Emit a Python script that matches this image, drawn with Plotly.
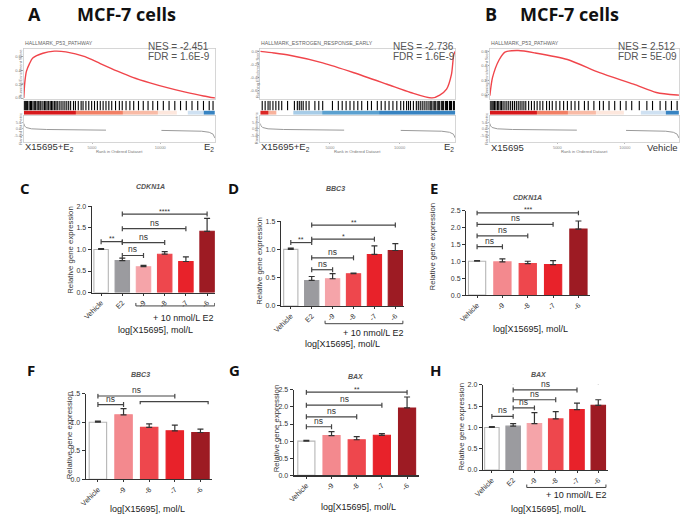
import plotly.graph_objects as go

W, H = 680, 526
SANS = "Liberation Sans, Arial, sans-serif"
HEAD = "Open Sans, Lato, sans-serif"

# ---------------- GSEA data (rank expressed as fraction of ordered dataset) ----------------
RANK_TICK_POS = [0.357, 0.714]
RANK_TICK_TXT = ["5000", "10000"]

A1_TITLE = "HALLMARK_P53_PATHWAY"
A1_NES, A1_FDR = "-2.451", "1.6E-9"
A1_ES_X = [0, 0.005, 0.014, 0.03, 0.047, 0.1, 0.16, 0.22, 0.32, 0.4, 0.49, 0.57, 0.66, 0.75, 0.84, 0.94, 1.0]
A1_ES_Y = [0.0, 0.22, 0.39, 0.5, 0.58, 0.65, 0.68, 0.67, 0.6, 0.5, 0.39, 0.3, 0.22, 0.15, 0.09, 0.03, 0.0]
A1_ES_TICKS = [0.0, 0.2, 0.4, 0.6]
A1_HITS = [0.0, 0.005, 0.01, 0.015, 0.02, 0.028, 0.035, 0.04, 0.048, 0.055, 0.062, 0.07, 0.078,
           0.085, 0.09, 0.1, 0.108, 0.115, 0.122, 0.13, 0.138, 0.145, 0.152, 0.16, 0.168, 0.175,
           0.185, 0.195, 0.205, 0.215, 0.225, 0.235, 0.245, 0.26, 0.27, 0.285, 0.3, 0.31, 0.325,
           0.34, 0.355, 0.37, 0.385, 0.4, 0.415, 0.43, 0.445, 0.46, 0.48, 0.5, 0.515, 0.535, 0.555,
           0.575, 0.6, 0.625, 0.65, 0.675, 0.7, 0.73, 0.76, 0.79, 0.82, 0.85, 0.88, 0.91, 0.94,
           0.97, 0.99]
A1_BAND_EDGES = [0, 0.27, 0.52, 0.7, 0.8, 0.86, 0.94, 1.0]
A1_BAND_VALS = [3.0, 1.6, 0.9, 0.35, 0.0, -0.5, -2.5]

A2_TITLE = "HALLMARK_ESTROGEN_RESPONSE_EARLY"
A2_NES, A2_FDR = "-2.736", "1.6E-9"
A2_ES_X = [0, 0.07, 0.15, 0.32, 0.48, 0.65, 0.77, 0.88, 0.92, 0.955, 0.98, 0.992, 1.0]
A2_ES_Y = [0.0, -0.025, -0.06, -0.175, -0.325, -0.5, -0.625, -0.71, -0.665, -0.575, -0.35, -0.05, 0.0]
A2_ES_TICKS = [0.0, -0.2, -0.4, -0.6]
A2_HITS = [0.01, 0.025, 0.04, 0.05, 0.065, 0.08, 0.095, 0.11, 0.14, 0.175, 0.19, 0.2, 0.21, 0.22,
           0.235, 0.25, 0.28, 0.3, 0.32, 0.37, 0.4, 0.42, 0.44, 0.46, 0.48, 0.5, 0.52, 0.55, 0.57,
           0.6, 0.62, 0.64, 0.66, 0.68, 0.7, 0.72, 0.735, 0.75, 0.76, 0.77, 0.785, 0.8, 0.81, 0.82,
           0.83, 0.84, 0.85, 0.86, 0.87, 0.875, 0.88, 0.89, 0.895, 0.9, 0.91, 0.915, 0.92, 0.93,
           0.935, 0.94, 0.95, 0.955, 0.96, 0.97, 0.975, 0.98, 0.99, 0.995]
A2_BAND_EDGES = [0, 0.04, 0.08, 0.17, 0.32, 0.61, 1.0]
A2_BAND_VALS = [2.8, 1.0, 0.0, -0.9, -1.8, -2.5]

B_TITLE = "HALLMARK_P53_PATHWAY"
B_NES, B_FDR = "2.512", "5E-09"
B_ES_X = [0, 0.014, 0.05, 0.08, 0.15, 0.24, 0.41, 0.58, 0.76, 0.88, 0.99, 1.0]
B_ES_Y = [-0.014, 0.236, 0.487, 0.59, 0.61, 0.577, 0.487, 0.305, 0.146, 0.031, -0.004, -0.005]
B_ES_TICKS = [0.0, 0.2, 0.4, 0.6]
B_HITS = [0.0, 0.006, 0.012, 0.018, 0.025, 0.032, 0.04, 0.047, 0.055, 0.062, 0.07, 0.08, 0.09,
          0.1, 0.11, 0.12, 0.13, 0.14, 0.15, 0.16, 0.17, 0.18, 0.19, 0.205, 0.22, 0.235, 0.25,
          0.265, 0.28, 0.3, 0.315, 0.33, 0.35, 0.37, 0.39, 0.41, 0.43, 0.45, 0.47, 0.5, 0.52,
          0.55, 0.58, 0.6, 0.63, 0.66, 0.69, 0.72, 0.75, 0.79, 0.83, 0.86, 0.9, 0.93, 0.96, 0.99]
B_BAND_EDGES = [0, 0.25, 0.41, 0.56, 0.71, 0.8, 0.93, 1.0]
B_BAND_VALS = [3.0, 1.6, 0.9, 0.35, 0.0, -0.5, -2.5]

RANK_A_X = [0, 0.004, 0.012, 0.04, 0.12, 0.25, 0.43, None, 0.72, 0.85, 0.93, 0.97, 0.99, 1.0]
RANK_A_Y = [0.4, 0.22, 0.1, 0.0, -0.05, -0.08, -0.1, None, -0.12, -0.14, -0.18, -0.26, -0.4, -0.7]
RANK_B_X = [0, 0.004, 0.012, 0.04, 0.12, 0.25, 0.46, None, 0.72, 0.85, 0.93, 0.97, 0.99, 1.0]
RANK_B_Y = [0.4, 0.22, 0.1, 0.0, -0.05, -0.08, -0.1, None, -0.12, -0.14, -0.18, -0.26, -0.4, -0.7]

# ---------------- qPCR bar data ----------------
LBL_E2 = ["Vehicle", "E2", "-9", "-8", "-7", "-6"]
LBL_NO = ["Vehicle", "-9", "-8", "-7", "-6"]

C_VALS = [1.0, 0.74, 0.60, 0.89, 0.72, 1.42]
C_ERRS = [0.02, 0.06, 0.03, 0.06, 0.11, 0.30]
C_SIG = [(0, 1, 1.18, "**"), (1, 5, 1.82, "****"), (1, 4, 1.48, "ns"), (1, 3, 1.16, "ns"), (1, 2, 0.86, "ns")]

D_VALS = [1.0, 0.45, 0.48, 0.57, 0.91, 0.98]
D_ERRS = [0.02, 0.07, 0.09, 0.01, 0.15, 0.12]
D_SIG = [(0, 1, 1.12, "**"), (1, 5, 1.43, "**"), (1, 4, 1.18, "*"), (1, 3, 0.85, "ns"), (1, 2, 0.64, "ns")]

E_VALS = [1.0, 0.98, 0.93, 0.90, 1.95]
E_ERRS = [0.02, 0.09, 0.07, 0.12, 0.24]
E_SIG = [(0, 4, 2.43, "***"), (0, 3, 2.09, "ns"), (0, 2, 1.75, "ns"), (0, 1, 1.43, "ns")]

F_VALS = [1.0, 1.13, 0.91, 0.85, 0.82]
F_ERRS = [0.02, 0.11, 0.06, 0.10, 0.06]
F_SIG = [(0, 1, 1.31, "ns"), (0, 3, 1.46, "ns")]
F_GROUP_LINE = (2, 4, 1.36)

G_VALS = [1.0, 1.16, 1.04, 1.17, 1.97]
G_ERRS = [0.02, 0.12, 0.09, 0.05, 0.32]
G_SIG = [(0, 4, 2.43, "**"), (0, 3, 2.05, "ns"), (0, 2, 1.71, "ns"), (0, 1, 1.42, "ns")]

H_VALS = [1.0, 1.03, 1.09, 1.20, 1.42, 1.52]
H_ERRS = [0.02, 0.06, 0.26, 0.17, 0.15, 0.13]
H_SIG = [(0, 1, 1.26, "ns"), (1, 5, 2.06, "*"), (1, 4, 1.88, "ns"), (1, 3, 1.65, "ns"), (1, 2, 1.46, "ns")]

# ---------------- styles ----------------
FILL_E2 = ["#ffffff", "#9b9b9f", "#f5a4a9", "#ee474d", "#e8222a", "#9d1b23"]
FILL_NO = ["#ffffff", "#f3898e", "#ee474d", "#e8222a", "#9d1b23"]
BAND_SCALE = [[0, "#1f6fb8"], [0.25, "#6aaed6"], [0.4, "#c6dbef"], [0.5, "#ffffff"],
              [0.6, "#fcd5c4"], [0.75, "#f4876a"], [1, "#d7191c"]]

fig = go.Figure()
annotations = []
shapes = []
axis_n = [0]


def new_axes(x0, x1, y0, y1, xa, ya):
    axis_n[0] += 1
    n = axis_n[0]
    s = "" if n == 1 else str(n)
    xa = dict(xa)
    ya = dict(ya)
    xa.update(domain=[x0 / W, x1 / W], anchor="y" + s, fixedrange=True)
    ya.update(domain=[1 - y1 / H, 1 - y0 / H], anchor="x" + s, fixedrange=True)
    fig.update_layout({"xaxis" + s: xa, "yaxis" + s: ya})
    return "x" + s, "y" + s


def text(t, x, y, size, color="#333", xanchor="center", yanchor="middle", angle=0, family=SANS):
    annotations.append(dict(text=t, x=x / W, y=1 - y / H, xref="paper", yref="paper",
                            xanchor=xanchor, yanchor=yanchor, showarrow=False, textangle=angle,
                            borderpad=0, font=dict(size=size, color=color, family=family)))


def gsea(x0, x1, es_x, es_y, es_rng, es_ticks, hits, edges, bvals, rk_x, rk_y,
         title, nes, fdr, left_lbl, right_lbl, nes_x):
    base_x = dict(range=[0, 1], showgrid=False, zeroline=False, showticklabels=False, ticks="")
    frame = dict(showline=True, linecolor="#cccccc", linewidth=0.8, mirror=True)
    xa, ya = new_axes(x0, x1, 45, 96, dict(base_x, **frame),
                      dict(range=es_rng, tickvals=es_ticks, ticktext=["%.1f" % t for t in es_ticks],
                           tickfont=dict(size=4, color="#777", family=SANS), ticks="outside",
                           ticklen=1.5, tickcolor="#aaa", showgrid=False, zeroline=False, **frame))
    fig.add_trace(go.Scatter(x=es_x, y=es_y, mode="lines", xaxis=xa, yaxis=ya, hoverinfo="skip",
                             line=dict(color="#f0454b", width=1.4, shape="spline", smoothing=0.7)))
    xb, yb = new_axes(x0, x1, 98, 108, base_x, dict(range=[0, 1], visible=False))
    bx, by = [], []
    for h in hits:
        bx += [h, h, None]
        by += [0, 1, None]
    fig.add_trace(go.Scatter(x=bx, y=by, mode="lines", xaxis=xb, yaxis=yb, hoverinfo="skip",
                             line=dict(color="#000000", width=1.1)))
    xc, yc = new_axes(x0, x1, 108, 112.5, base_x, dict(range=[0, 1], visible=False))
    fig.add_trace(go.Heatmap(x=edges, y=[0, 1], z=[bvals], zmin=-3, zmax=3, colorscale=BAND_SCALE,
                             showscale=False, xaxis=xc, yaxis=yc, hoverinfo="skip"))
    xr, yr = new_axes(x0, x1, 113, 140,
                      dict(base_x, tickvals=RANK_TICK_POS, ticktext=RANK_TICK_TXT, showticklabels=True,
                           tickfont=dict(size=4, color="#888", family=SANS), ticks="outside",
                           ticklen=1, tickcolor="#bbb", **frame),
                      dict(range=[-1, 1], tickvals=[-0.5, 0, 0.5],
                           ticktext=["-5.0", "0.0", "5.0"],
                           tickfont=dict(size=4, color="#888", family=SANS), ticks="outside",
                           ticklen=1, tickcolor="#bbb", showgrid=False, zeroline=False, **frame))
    fig.add_trace(go.Scatter(x=rk_x, y=rk_y, mode="lines", xaxis=xr, yaxis=yr, hoverinfo="skip",
                             connectgaps=False, line=dict(color="#9a9a9a", width=1)))
    text(title, x0, 40, 5.2, "#666", xanchor="left")
    text("NES = " + nes, nes_x, 43.5, 10, "#555", xanchor="left")
    text("FDR = " + fdr, nes_x, 53.5, 10, "#555", xanchor="left")
    text(left_lbl, x0, 145, 9.5, "#333", xanchor="left")
    text(right_lbl, x1, 145, 9.5, "#333", xanchor="right")
    text("Rank in Ordered Dataset", (x0 + x1) / 2, 149.5, 4.2, "#777")
    text("Running Enrichment Score", x0 - 3.5, 70, 4, "#777", angle=-90)
    text("Ranked list metric", x0 - 3.5, 126, 4, "#777", angle=-90)


def bar_panel(box, xrng, yrng, ymax_tick, labels, vals, errs, fills, sig, title, title_pos,
              ytitle_pos, letter, letter_pos, xlabel_pos, group=None, extra_line=None):
    x0, x1, y0, y1 = box
    n = len(labels)
    idx = list(range(n))
    nt = int(round(ymax_tick / 0.5)) + 1
    tv = [i * 0.5 for i in range(nt)]
    xa, ya = new_axes(x0, x1, y0, y1,
                      dict(range=xrng, tickvals=idx, ticktext=labels, tickangle=-45, ticks="outside",
                           ticklen=2, tickcolor="#333", tickwidth=1, showline=True, linecolor="#333",
                           linewidth=1.2, showgrid=False, zeroline=False,
                           tickfont=dict(size=7.2, color="#333", family=SANS)),
                      dict(range=yrng, tickvals=tv, ticktext=["%.1f" % v for v in tv], ticks="outside",
                           ticklen=3, tickcolor="#333", tickwidth=1, showline=True, linecolor="#333",
                           linewidth=1.2, showgrid=False, zeroline=False,
                           tickfont=dict(size=7, color="#333", family=SANS)))
    borders = ["#b5b5b5"] + fills[1:]
    fig.add_trace(go.Bar(x=idx, y=vals, width=0.68, xaxis=xa, yaxis=ya, hoverinfo="skip",
                         marker=dict(color=fills, line=dict(color=borders, width=1.1)),
                         error_y=dict(type="data", array=errs, arrayminus=[0] * n, symmetric=False,
                                      color="#333", thickness=1.2, width=3)))
    cap = 2.5 * (yrng[1] - yrng[0]) / (y1 - y0)
    sx, sy = [], []
    for a, b, lvl, lab in sig:
        sx += [a, a, None, a, b, None, b, b, None]
        sy += [lvl - cap, lvl + cap, None, lvl, lvl, None, lvl - cap, lvl + cap, None]
        annotations.append(dict(text=lab, x=(a + b) / 2, y=lvl, xref=xa, yref=ya, showarrow=False,
                                xanchor="center", yanchor="bottom", yshift=-1.5 if "*" in lab else 0,
                                borderpad=0,
                                font=dict(size=7 if "*" in lab else 8.5, color="#333", family=SANS)))
    if extra_line is not None:
        a, b, lvl = extra_line
        sx += [a - 0.35, a - 0.35, b + 0.3, b + 0.3, None]
        sy += [lvl - cap, lvl, lvl, lvl - cap, None]
    fig.add_trace(go.Scatter(x=sx, y=sy, mode="lines", xaxis=xa, yaxis=ya, hoverinfo="skip",
                             cliponaxis=False, line=dict(color="#444", width=1.2)))
    if group is not None:
        g0, g1, gy, tx, ty = group
        yp = 1 - gy / H
        up = 3 / H
        for (xs0, ys0, xs1, ys1) in [(g0 - 0.36, yp + up, g0 - 0.36, yp), (g0 - 0.36, yp, g1 + 0.36, yp),
                                     (g1 + 0.36, yp, g1 + 0.36, yp + up)]:
            shapes.append(dict(type="line", xref=xa, yref="paper", x0=xs0, y0=ys0, x1=xs1, y1=ys1,
                               line=dict(color="#444", width=1)))
        text("+ 10 nmol/L E2", tx, ty, 9, "#222", xanchor="right")
    text("<b><i>" + title + "</i></b>", title_pos[0], title_pos[1], 7, "#555")
    text("Relative gene expression", ytitle_pos[0], ytitle_pos[1], 7.8, "#333", angle=-90)
    text("<b>" + letter + "</b>", letter_pos[0], letter_pos[1], 15, "#111", family=HEAD)
    text("log[X15695], mol/L", xlabel_pos[0], xlabel_pos[1], 9, "#222")


# ---------------- GSEA panels ----------------
gsea(14, 208, A1_ES_X, A1_ES_Y, [-0.01, 0.72], A1_ES_TICKS, A1_HITS, A1_BAND_EDGES, A1_BAND_VALS,
     RANK_A_X, RANK_A_Y, A1_TITLE, A1_NES, A1_FDR, "X15695+E<sub>2</sub>", "E<sub>2</sub>", 139)
gsea(254, 452, A2_ES_X, A2_ES_Y, [-0.72, 0.045], A2_ES_TICKS, A2_HITS, A2_BAND_EDGES, A2_BAND_VALS,
     RANK_A_X, RANK_A_Y, A2_TITLE, A2_NES, A2_FDR, "X15695+E<sub>2</sub>", "E<sub>2</sub>", 388)
gsea(487, 679, B_ES_X, B_ES_Y, [-0.055, 0.64], B_ES_TICKS, B_HITS, B_BAND_EDGES, B_BAND_VALS,
     RANK_B_X, RANK_B_Y, B_TITLE, B_NES, B_FDR, "X15695", "Vehicle", 616)

text("<b>A</b>", 25, 10, 18, "#111", family=HEAD)
text("<b>MCF-7 cells</b>", 67, 10, 18, "#111", xanchor="left", family=HEAD)
text("<b>B</b>", 488, 10, 18, "#111", family=HEAD)
text("<b>MCF-7 cells</b>", 517, 10, 18, "#111", xanchor="left", family=HEAD)

# ---------------- bar panels ----------------
bar_panel((83, 208, 205, 292.5), [-0.44, 5.37], [0, 2.0], 2.0, LBL_E2, C_VALS, C_ERRS, FILL_E2, C_SIG,
          "CDKN1A", (143, 185), (62, 249), "C", (15, 186), (148, 330), group=(2, 5, 306, 207, 318))
bar_panel((275, 400, 220, 306), [-0.47, 5.42], [0, 1.5], 1.5, LBL_E2, D_VALS, D_ERRS, FILL_E2, D_SIG,
          "BBC3", (330, 187), (253, 260), "D", (227, 186), (337, 345), group=(2, 5, 324, 400, 333))
bar_panel((463, 589, 209.3, 295), [-0.43, 4.47], [0, 2.5], 2.5, LBL_NO, E_VALS, E_ERRS, FILL_NO, E_SIG,
          "CDKN1A", (525, 196), (429, 246), "E", (430, 186), (528, 329))
bar_panel((77, 205, 395, 481.7), [-0.47, 4.45], [0, 1.5], 1.5, LBL_NO, F_VALS, F_ERRS, FILL_NO, F_SIG,
          "BBC3", (132, 375), (60, 437), "F", (21, 371), (140, 512), extra_line=F_GROUP_LINE)
bar_panel((288, 415, 391, 477.7), [-0.5, 4.47], [0, 2.5], 2.5, LBL_NO, G_VALS, G_ERRS, FILL_NO, G_SIG,
          "BAX", (351, 378), (270, 430), "G", (228, 371), (354, 510))
bar_panel((480, 607, 386, 472.3), [-0.42, 5.46], [0, 2.0], 2.0, LBL_E2, H_VALS, H_ERRS, FILL_E2, H_SIG,
          "BAX", (537, 375), (458, 428), "H", (432, 371), (547, 512), group=(2, 5, 490, 606, 498))

fig.update_layout(width=W, height=H, margin=dict(l=0, r=0, t=0, b=0), paper_bgcolor="white",
                  plot_bgcolor="rgba(0,0,0,0)", showlegend=False, annotations=annotations, shapes=shapes,
                  font=dict(family=SANS))
fig.write_html("out.html", config={"displayModeBar": False, "staticPlot": True},
               post_script="document.body.style.margin='0px';document.documentElement.style.overflow='hidden';")
